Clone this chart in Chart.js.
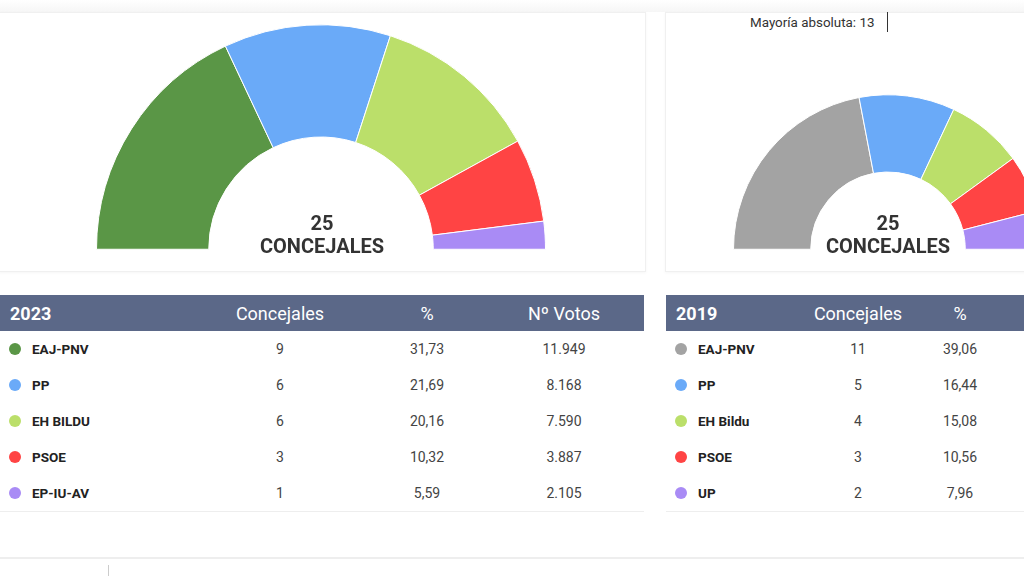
<!DOCTYPE html>
<html>
<head>
<meta charset="utf-8">
<script src="https://cdn.jsdelivr.net/npm/chart.js@4/dist/chart.umd.min.js"></script>
<style>
  html, body { margin: 0; padding: 0; width: 1024px; height: 576px; overflow: hidden; background: #fff; font-family: Roboto, "Noto Sans", sans-serif; }
  .panel { position: absolute; top: 12px; height: 258px; border: 1px solid #f0f0f0; box-shadow: 0 1px 3px rgba(0,0,0,0.04); background: #fff; }
  .topband { position: absolute; left: 0; top: 0; width: 1024px; height: 12px; background: linear-gradient(#fff, #f6f6f6); }
  canvas { position: absolute; }
  .center { position: absolute; text-align: center; font-weight: bold; color: #333; font-size: 20px; line-height: 23px; }
  .mayoria { position: absolute; left: 750px; top: 15px; font-size: 13.4px; color: #333; }
  .mark { position: absolute; left: 887px; top: 12px; width: 1px; height: 20px; background: #333; }
  table { position: absolute; top: 295px; border-collapse: collapse; table-layout: fixed; font-size: 14px; color: #444; }
  th { background: #5b6888; color: #fff; font-weight: normal; font-size: 18px; height: 36px; padding: 0; }
  th.y { text-align: left; padding-left: 10px; font-weight: bold; }
  td { height: 36px; padding: 0; text-align: center; }
  td.name { text-align: left; font-weight: bold; color: #222; font-size: 13.5px; }
  .dot { display: inline-block; width: 12px; height: 12px; border-radius: 50%; margin: 0 11px 0 9px; vertical-align: -1px; }
  tbody tr:last-child td { border-bottom: 1px solid #eee; }
  .footer { position: absolute; left: 0; top: 557px; width: 1024px; height: 2px; background: #eee; }
  .vline { position: absolute; left: 108px; top: 565px; width: 1px; height: 11px; background: #ccc; }
</style>
</head>
<body>
<div class="topband"></div>
<div class="panel" style="left:-2px;width:646px;"></div>
<div class="panel" style="left:665px;width:400px;"></div>
<div class="mayoria">Mayoría absoluta: 13</div>
<div class="mark"></div>

<canvas id="c2023" style="left:96px;top:24px;width:450px;height:226px;"></canvas>
<canvas id="c2019" style="left:733px;top:94px;width:310px;height:156px;"></canvas>
<div class="center" style="left:222px;top:212px;width:200px;">25<br>CONCEJALES</div>
<div class="center" style="left:788px;top:212px;width:200px;">25<br>CONCEJALES</div>

<table id="t2023" style="left:0;width:644px;"></table>
<table id="t2019" style="left:666px;width:560px;"></table>

<div class="footer"></div>
<div class="vline"></div>

<script>
// --- DATA ---
const parties2023 = ['EAJ-PNV', 'PP', 'EH BILDU', 'PSOE', 'EP-IU-AV'];
const seats2023 = [9, 6, 6, 3, 1];
const pct2023 = ['31,73', '21,69', '20,16', '10,32', '5,59'];
const votes2023 = ['11.949', '8.168', '7.590', '3.887', '2.105'];
const colors2023 = ['#5a9646', '#6aaaf8', '#bbdf6a', '#ff4444', '#a98bf5'];

const parties2019 = ['EAJ-PNV', 'PP', 'EH Bildu', 'PSOE', 'UP'];
const seats2019 = [11, 5, 4, 3, 2];
const pct2019 = ['39,06', '16,44', '15,08', '10,56', '7,96'];
const votes2019 = ['', '', '', '', ''];
const colors2019 = ['#a3a3a3', '#6aaaf8', '#bbdf6a', '#ff4444', '#a98bf5'];

const headers = ['Concejales', '%', 'Nº Votos'];

// --- CHARTS ---
function makeHemicycle(id, labels, seats, colors) {
    const ctx = document.getElementById(id).getContext('2d');
    return new Chart(ctx, {
        type: 'doughnut',
        data: {
            labels,
            datasets: [{ data: seats, backgroundColor: colors, borderColor: '#fff', borderWidth: 1 }]
        },
        options: {
            responsive: false,
            animation: false,
            rotation: -90,
            circumference: 180,
            cutout: '50%',
            layout: { padding: 0 },
            plugins: { legend: { display: false }, tooltip: { enabled: false } }
        }
    });
}

function sizeCanvas(id) {
    const c = document.getElementById(id);
    c.width = parseInt(c.style.width);
    c.height = parseInt(c.style.height);
}
sizeCanvas('c2023');
sizeCanvas('c2019');
makeHemicycle('c2023', parties2023, seats2023, colors2023);
makeHemicycle('c2019', parties2019, seats2019, colors2019);

// --- TABLES ---
function buildTable(id, year, parties, seats, pcts, votes, colors, widths) {
    const table = document.getElementById(id);
    let html = '<colgroup>' + widths.map(w => `<col style="width:${w}px">`).join('') + '</colgroup>';
    html += `<thead><tr><th class="y">${year}</th>`;
    headers.forEach(h => { html += `<th>${h}</th>`; });
    html += '</tr></thead><tbody>';
    parties.forEach((p, i) => {
        html += `<tr><td class="name"><span class="dot" style="background:${colors[i]}"></span>${p}</td>` +
            `<td>${seats[i]}</td><td>${pcts[i]}</td><td>${votes[i]}</td></tr>`;
    });
    html += '</tbody>';
    table.innerHTML = html;
}

buildTable('t2023', '2023', parties2023, seats2023, pct2023, votes2023, colors2023, [190, 180, 114, 160]);
buildTable('t2019', '2019', parties2019, seats2019, pct2019, votes2019, colors2019, [126, 132, 72, 230]);
</script>
</body>
</html>
